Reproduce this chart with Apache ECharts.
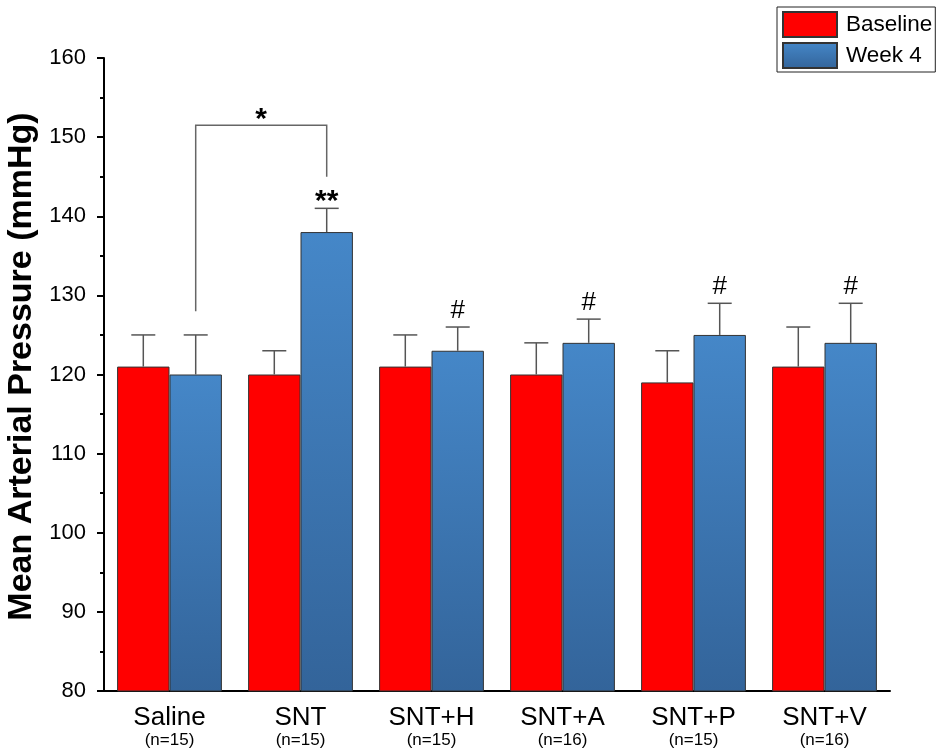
<!DOCTYPE html>
<html>
<head>
<meta charset="utf-8">
<script src="https://cdn.jsdelivr.net/npm/echarts@6/dist/echarts.min.js"></script>
<style>
  html, body { margin: 0; padding: 0; background: #fff; }
  #chart { width: 936px; height: 754px; }
</style>
</head>
<body>
<div id="chart"></div>
<script>
// Groups and sample sizes
const groups = ['Saline', 'SNT', 'SNT+H', 'SNT+A', 'SNT+P', 'SNT+V'];
const sampleSizes = [15, 15, 15, 16, 15, 16];

// Mean arterial pressure (mmHg) and SD
const baselineMean = [121, 120, 121, 120, 119, 121];
const baselineSD   = [4, 3, 4, 4, 4, 5];
const week4Mean    = [120, 138, 123, 124, 125, 124];
const week4SD      = [5, 3, 3, 3, 4, 5];

// Significance marks above the Week 4 bars
const week4Marks = ['', '**', '#', '#', '#', '#'];

// Saline vs SNT comparison bracket: [fromGroup, toGroup, leftFoot, top, rightFoot]
const bracket = [0, 1, 128, 151.5, 145];
const bracketMark = '*';

const yTicks = { min: 80, max: 160, step: 10 };

const FONT = 'Liberation Sans, Arial, sans-serif';
const chart = echarts.init(document.getElementById('chart'));

function barWidthOf(api) {
  // two bars per category, 20% category gap, no gap between bars
  return api.size([1, 0])[0] * 0.8 / 2;
}

function markText(text, x, yCap) {
  // asterisks sit high in the em box, hashes are centred on it
  const isStar = text.indexOf('*') >= 0;
  return {
    type: 'text',
    style: {
      text: text,
      x: x,
      y: isStar ? yCap - 7 : yCap - 16,
      align: 'center',
      verticalAlign: 'middle',
      font: isStar ? 'bold 30px ' + FONT : '26px ' + FONT,
      fill: '#000'
    }
  };
}

function errorBarSeries(name, means, sds, side, marks) {
  return {
    type: 'custom',
    name: name + ' SD',
    z: 5,
    silent: true,
    data: means.map((m, i) => [i, m, sds[i]]),
    renderItem: function (params, api) {
      const i = api.value(0);
      const bw = barWidthOf(api);
      const base = api.coord([i, api.value(1)]);
      const top = api.coord([i, api.value(1) + api.value(2)]);
      const x = base[0] + side * bw / 2;
      const cap = 12;
      const children = [
        { type: 'line', shape: { x1: x, y1: base[1], x2: x, y2: top[1] },
          style: { stroke: '#555', lineWidth: 1.5 } },
        { type: 'line', shape: { x1: x - cap, y1: top[1], x2: x + cap, y2: top[1] },
          style: { stroke: '#555', lineWidth: 1.5 } }
      ];
      const mark = marks ? marks[i] : '';
      if (mark) children.push(markText(mark, x, top[1]));
      return { type: 'group', children: children };
    }
  };
}

const option = {
  backgroundColor: '#fff',
  animation: false,
  textStyle: { fontFamily: FONT },
  grid: { left: 104, right: 46, top: 58, bottom: 63, containLabel: false, outerBoundsMode: 'none' },
  legend: {
    orient: 'vertical',
    left: 777, top: 7,
    padding: [4, 3, 3, 5],
    itemGap: 4,
    itemWidth: 54, itemHeight: 25,
    icon: 'rect',
    borderColor: '#222', borderWidth: 1,
    borderRadius: 0,
    backgroundColor: '#fff',
    textStyle: { fontSize: 22.5, color: '#000', fontFamily: FONT, padding: [0, 0, 0, 4] },
    data: ['Baseline', 'Week 4']
  },
  xAxis: {
    type: 'category',
    data: groups,
    axisLine: { lineStyle: { color: '#000', width: 2 } },
    axisTick: { alignWithLabel: true, length: 7, lineStyle: { color: '#000', width: 2 } },
    axisLabel: {
      interval: 0,
      margin: 13,
      formatter: (v, i) => '{g|' + v + '}\n{n|(n=' + sampleSizes[i] + ')}',
      rich: {
        g: { fontSize: 26, color: '#000', fontFamily: FONT, lineHeight: 27 },
        n: { fontSize: 17, color: '#000', fontFamily: FONT, lineHeight: 19 }
      }
    }
  },
  yAxis: {
    type: 'value',
    min: yTicks.min, max: yTicks.max, interval: yTicks.step,
    name: 'Mean Arterial Pressure (mmHg)',
    nameLocation: 'middle',
    nameGap: 63,
    nameTextStyle: { fontSize: 34, fontWeight: 'bold', color: '#000', fontFamily: FONT, padding: [0, 0, 0, 16] },
    axisLine: { show: true, lineStyle: { color: '#000', width: 2 } },
    axisTick: { show: true, length: 7, lineStyle: { color: '#000', width: 2 } },
    minorTick: { show: true, splitNumber: 2, length: 4, lineStyle: { color: '#000', width: 2 } },
    splitLine: { show: false },
    axisLabel: { fontSize: 22, color: '#000', margin: 18, fontFamily: FONT }
  },
  series: [
    {
      name: 'Baseline',
      type: 'bar',
      data: baselineMean,
      barGap: '0%',
      barCategoryGap: '20%',
      itemStyle: { color: '#ff0000', borderColor: '#333', borderWidth: 1 }
    },
    {
      name: 'Week 4',
      type: 'bar',
      data: week4Mean,
      itemStyle: {
        color: new echarts.graphic.LinearGradient(0, 0, 0, 1, [
          { offset: 0, color: '#4587c8' },
          { offset: 1, color: '#33649a' }
        ]),
        borderColor: '#333', borderWidth: 1
      }
    },
    errorBarSeries('Baseline', baselineMean, baselineSD, -1, null),
    errorBarSeries('Week 4', week4Mean, week4SD, 1, week4Marks),
    {
      type: 'custom',
      name: 'comparison',
      silent: true,
      z: 6,
      data: [bracket],
      renderItem: function (params, api) {
        const bw = barWidthOf(api);
        const pL = api.coord([api.value(0), api.value(2)]);
        const pT = api.coord([api.value(0), api.value(3)]);
        const pR = api.coord([api.value(1), api.value(4)]);
        const xL = pL[0] + bw / 2;
        const xR = pR[0] + bw / 2;
        const star = markText(bracketMark, (xL + xR) / 2, pT[1]);
        star.style.y = pT[1] - 6;
        return {
          type: 'group',
          children: [
            { type: 'polyline',
              shape: { points: [[xL, pL[1]], [xL, pT[1]], [xR, pT[1]], [xR, pR[1]]] },
              style: { stroke: '#666', lineWidth: 1.5, fill: null } },
            star
          ]
        };
      }
    }
  ]
};

chart.setOption(option);
</script>
</body>
</html>
